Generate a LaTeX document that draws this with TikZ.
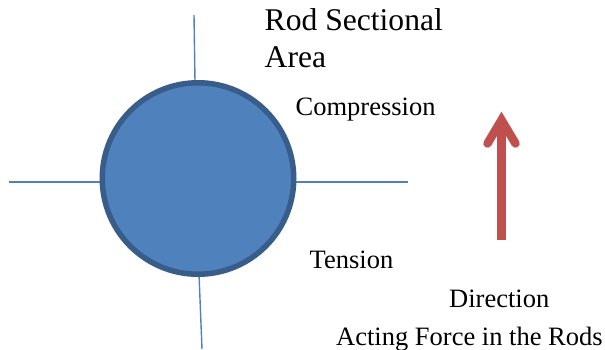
\documentclass[tikz,border=0pt]{standalone}
\usepackage{fontspec}
\setmainfont{Liberation Serif}
\definecolor{fillb}{HTML}{4F81BD}
\definecolor{edgeb}{HTML}{385D8A}
\definecolor{arr}{HTML}{C0504D}
\tikzset{lbl/.style={inner sep=0pt,anchor=base west,font=\fontsize{#1}{#1}\selectfont},
 axis/.style={draw=fillb,line width=1.4pt},
 arrowline/.style={draw=arr,line width=8.5pt}}
\begin{document}
\begin{tikzpicture}[x=1pt,y=-1pt]
\useasboundingbox (0,0) rectangle (605,349);
\coordinate (t) at (194,15);
\coordinate (b) at (202,349);
\coordinate (l) at (9,182);
\coordinate (r) at (408,182);
\draw[axis] (t) -- (195,82);
\draw[axis] (b) -- (199,274);
\draw[axis] (l) -- (102,182);
\draw[axis] (r) -- (294,182);
\node[circle,draw=edgeb,fill=fillb,line width=5.5pt,minimum size=191.5pt,inner sep=0pt] (c) at (198,178.5) {};
\node[lbl=31.6] (a) at (264.5,30.5) {Rod Sectional};
\node[lbl=31.6] (a2) at (264.5,67) {Area};
\node[lbl=26.5] (d) at (295.5,115) {Compression};
\node[lbl=26.5] (e) at (309.5,268.5) {Tension};
\node[lbl=26.5] (f) at (449,307) {Direction};
\node[lbl=26.5] (g) at (336,345) {Acting Force in the Rods};
\coordinate (p) at (501.5,240);
\coordinate (q) at (501.5,120);
\draw[arrowline] (p) -- (q);
\draw[arrowline,line cap=round,line join=miter,miter limit=10] (487.5,143.5) -- (q) -- (515.5,143.5);
\end{tikzpicture}
\end{document}
